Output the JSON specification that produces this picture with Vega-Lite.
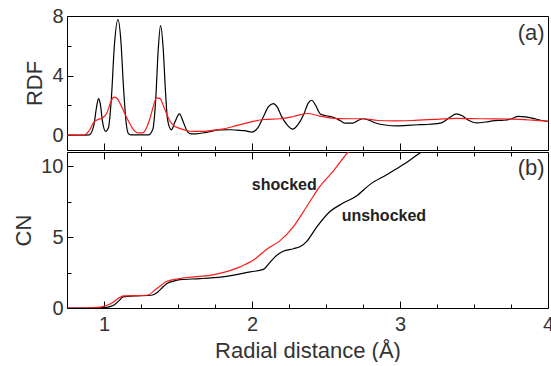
{
  "$schema": "https://vega.github.io/schema/vega-lite/v6.json",
  "background": "white",
  "padding": {"left": 12, "top": 5, "right": 0, "bottom": 0},
  "spacing": 0,
  "config": {
    "font": "Liberation Sans",
    "view": {"stroke": "black", "strokeWidth": 1},
    "axis": {
      "domain": false, "grid": false,
      "labelFont": "Liberation Sans", "labelFontSize": 20, "labelColor": "#333",
      "titleFont": "Liberation Sans", "titleFontSize": 22, "titleFontWeight": "normal", "titleColor": "#333",
      "tickColor": "black", "tickWidth": 1, "labelFlush": false, "labelOverlap": false
    }
  },
  "datasets": {
    "rdf": [
      {"series": "unshocked", "r": 0.75, "v": 0},
      {"series": "unshocked", "r": 0.85, "v": 0},
      {"series": "unshocked", "r": 0.9, "v": 0.02},
      {"series": "unshocked", "r": 0.93, "v": 0.6},
      {"series": "unshocked", "r": 0.95, "v": 1.9},
      {"series": "unshocked", "r": 0.963, "v": 2.45},
      {"series": "unshocked", "r": 0.975, "v": 2.1},
      {"series": "unshocked", "r": 0.99, "v": 0.9},
      {"series": "unshocked", "r": 1.01, "v": 0.25},
      {"series": "unshocked", "r": 1.03, "v": 0.5},
      {"series": "unshocked", "r": 1.05, "v": 2.5},
      {"series": "unshocked", "r": 1.07, "v": 6.0},
      {"series": "unshocked", "r": 1.094, "v": 7.75},
      {"series": "unshocked", "r": 1.115, "v": 6.2},
      {"series": "unshocked", "r": 1.13, "v": 3.5},
      {"series": "unshocked", "r": 1.15, "v": 0.8},
      {"series": "unshocked", "r": 1.165, "v": 0.1},
      {"series": "unshocked", "r": 1.18, "v": 0.02},
      {"series": "unshocked", "r": 1.3, "v": 0.02},
      {"series": "unshocked", "r": 1.33, "v": 0.4},
      {"series": "unshocked", "r": 1.35, "v": 2.5},
      {"series": "unshocked", "r": 1.365, "v": 5.5},
      {"series": "unshocked", "r": 1.382, "v": 7.35},
      {"series": "unshocked", "r": 1.4, "v": 5.8},
      {"series": "unshocked", "r": 1.415, "v": 3.0},
      {"series": "unshocked", "r": 1.43, "v": 1.0},
      {"series": "unshocked", "r": 1.455, "v": 0.35},
      {"series": "unshocked", "r": 1.48, "v": 0.9},
      {"series": "unshocked", "r": 1.51, "v": 1.42},
      {"series": "unshocked", "r": 1.535, "v": 0.9},
      {"series": "unshocked", "r": 1.56, "v": 0.3},
      {"series": "unshocked", "r": 1.58, "v": 0.1},
      {"series": "unshocked", "r": 1.62, "v": 0.08},
      {"series": "unshocked", "r": 1.7, "v": 0.2},
      {"series": "unshocked", "r": 1.78, "v": 0.35},
      {"series": "unshocked", "r": 1.85, "v": 0.36},
      {"series": "unshocked", "r": 1.9, "v": 0.33},
      {"series": "unshocked", "r": 1.95, "v": 0.3},
      {"series": "unshocked", "r": 2.0, "v": 0.2},
      {"series": "unshocked", "r": 2.04, "v": 0.5},
      {"series": "unshocked", "r": 2.08, "v": 1.3},
      {"series": "unshocked", "r": 2.11, "v": 1.9},
      {"series": "unshocked", "r": 2.144, "v": 2.12},
      {"series": "unshocked", "r": 2.17, "v": 1.9},
      {"series": "unshocked", "r": 2.2, "v": 1.26},
      {"series": "unshocked", "r": 2.24, "v": 0.65},
      {"series": "unshocked", "r": 2.275, "v": 0.4},
      {"series": "unshocked", "r": 2.31, "v": 0.7},
      {"series": "unshocked", "r": 2.35, "v": 1.4},
      {"series": "unshocked", "r": 2.38, "v": 2.15},
      {"series": "unshocked", "r": 2.403, "v": 2.34},
      {"series": "unshocked", "r": 2.43, "v": 2.0},
      {"series": "unshocked", "r": 2.46, "v": 1.44},
      {"series": "unshocked", "r": 2.5, "v": 1.3},
      {"series": "unshocked", "r": 2.55, "v": 1.2},
      {"series": "unshocked", "r": 2.6, "v": 0.95},
      {"series": "unshocked", "r": 2.63, "v": 0.8},
      {"series": "unshocked", "r": 2.68, "v": 0.8},
      {"series": "unshocked", "r": 2.72, "v": 1.0},
      {"series": "unshocked", "r": 2.75, "v": 1.1},
      {"series": "unshocked", "r": 2.79, "v": 1.0},
      {"series": "unshocked", "r": 2.84, "v": 0.8},
      {"series": "unshocked", "r": 2.9, "v": 0.68},
      {"series": "unshocked", "r": 2.98, "v": 0.62},
      {"series": "unshocked", "r": 3.05, "v": 0.66},
      {"series": "unshocked", "r": 3.13, "v": 0.7},
      {"series": "unshocked", "r": 3.2, "v": 0.73},
      {"series": "unshocked", "r": 3.28, "v": 0.82},
      {"series": "unshocked", "r": 3.34, "v": 1.22},
      {"series": "unshocked", "r": 3.38, "v": 1.42},
      {"series": "unshocked", "r": 3.42, "v": 1.3},
      {"series": "unshocked", "r": 3.46, "v": 1.02},
      {"series": "unshocked", "r": 3.52, "v": 0.82},
      {"series": "unshocked", "r": 3.58, "v": 0.88},
      {"series": "unshocked", "r": 3.64, "v": 0.97},
      {"series": "unshocked", "r": 3.7, "v": 1.0},
      {"series": "unshocked", "r": 3.75, "v": 1.08},
      {"series": "unshocked", "r": 3.8, "v": 1.26},
      {"series": "unshocked", "r": 3.85, "v": 1.22},
      {"series": "unshocked", "r": 3.9, "v": 1.12},
      {"series": "unshocked", "r": 3.95, "v": 1.0},
      {"series": "unshocked", "r": 4.0, "v": 0.92},
      {"series": "shocked", "r": 0.75, "v": 0},
      {"series": "shocked", "r": 0.86, "v": 0},
      {"series": "shocked", "r": 0.9, "v": 0.3},
      {"series": "shocked", "r": 0.93, "v": 0.85},
      {"series": "shocked", "r": 0.96, "v": 1.05},
      {"series": "shocked", "r": 0.99, "v": 1.15},
      {"series": "shocked", "r": 1.02, "v": 1.5},
      {"series": "shocked", "r": 1.045, "v": 2.2},
      {"series": "shocked", "r": 1.065, "v": 2.55},
      {"series": "shocked", "r": 1.085, "v": 2.5},
      {"series": "shocked", "r": 1.11, "v": 2.1},
      {"series": "shocked", "r": 1.14, "v": 1.45},
      {"series": "shocked", "r": 1.17, "v": 0.85},
      {"series": "shocked", "r": 1.2, "v": 0.35},
      {"series": "shocked", "r": 1.23, "v": 0.15},
      {"series": "shocked", "r": 1.26, "v": 0.15},
      {"series": "shocked", "r": 1.29, "v": 0.55},
      {"series": "shocked", "r": 1.31, "v": 1.1},
      {"series": "shocked", "r": 1.335, "v": 2.0},
      {"series": "shocked", "r": 1.355, "v": 2.5},
      {"series": "shocked", "r": 1.38, "v": 2.45},
      {"series": "shocked", "r": 1.4, "v": 2.0},
      {"series": "shocked", "r": 1.42, "v": 1.5},
      {"series": "shocked", "r": 1.445, "v": 0.95},
      {"series": "shocked", "r": 1.47, "v": 0.65},
      {"series": "shocked", "r": 1.51, "v": 0.45},
      {"series": "shocked", "r": 1.555, "v": 0.32},
      {"series": "shocked", "r": 1.6, "v": 0.25},
      {"series": "shocked", "r": 1.65, "v": 0.25},
      {"series": "shocked", "r": 1.72, "v": 0.3},
      {"series": "shocked", "r": 1.8, "v": 0.4},
      {"series": "shocked", "r": 1.9, "v": 0.65},
      {"series": "shocked", "r": 2.0, "v": 0.9},
      {"series": "shocked", "r": 2.08, "v": 1.05},
      {"series": "shocked", "r": 2.19, "v": 1.1},
      {"series": "shocked", "r": 2.28, "v": 1.25},
      {"series": "shocked", "r": 2.37, "v": 1.45},
      {"series": "shocked", "r": 2.46, "v": 1.28},
      {"series": "shocked", "r": 2.55, "v": 1.12},
      {"series": "shocked", "r": 2.65, "v": 1.1},
      {"series": "shocked", "r": 2.75, "v": 1.1},
      {"series": "shocked", "r": 2.85, "v": 0.98},
      {"series": "shocked", "r": 2.95, "v": 0.95},
      {"series": "shocked", "r": 3.1, "v": 0.99},
      {"series": "shocked", "r": 3.25, "v": 1.06},
      {"series": "shocked", "r": 3.38, "v": 1.13},
      {"series": "shocked", "r": 3.55, "v": 1.1},
      {"series": "shocked", "r": 3.76, "v": 1.08},
      {"series": "shocked", "r": 3.9, "v": 1.0},
      {"series": "shocked", "r": 4.0, "v": 0.92}
    ],
    "cn": [
      {"series": "unshocked", "r": 0.75, "v": 0},
      {"series": "unshocked", "r": 0.95, "v": 0},
      {"series": "unshocked", "r": 1.0, "v": 0.02},
      {"series": "unshocked", "r": 1.04, "v": 0.1},
      {"series": "unshocked", "r": 1.065, "v": 0.19},
      {"series": "unshocked", "r": 1.1, "v": 0.5},
      {"series": "unshocked", "r": 1.13, "v": 0.78},
      {"series": "unshocked", "r": 1.2, "v": 0.85},
      {"series": "unshocked", "r": 1.32, "v": 0.9},
      {"series": "unshocked", "r": 1.36, "v": 1.1},
      {"series": "unshocked", "r": 1.4, "v": 1.5},
      {"series": "unshocked", "r": 1.425, "v": 1.72},
      {"series": "unshocked", "r": 1.47, "v": 1.9},
      {"series": "unshocked", "r": 1.515, "v": 2.0},
      {"series": "unshocked", "r": 1.65, "v": 2.07},
      {"series": "unshocked", "r": 1.8, "v": 2.2},
      {"series": "unshocked", "r": 1.99, "v": 2.55},
      {"series": "unshocked", "r": 2.077, "v": 2.72},
      {"series": "unshocked", "r": 2.12, "v": 3.2},
      {"series": "unshocked", "r": 2.16, "v": 3.65},
      {"series": "unshocked", "r": 2.21, "v": 4.0},
      {"series": "unshocked", "r": 2.28, "v": 4.18},
      {"series": "unshocked", "r": 2.33, "v": 4.35},
      {"series": "unshocked", "r": 2.37, "v": 4.7},
      {"series": "unshocked", "r": 2.437, "v": 5.7},
      {"series": "unshocked", "r": 2.527, "v": 6.8},
      {"series": "unshocked", "r": 2.616, "v": 7.4},
      {"series": "unshocked", "r": 2.706, "v": 7.9},
      {"series": "unshocked", "r": 2.796, "v": 8.7},
      {"series": "unshocked", "r": 2.91, "v": 9.4},
      {"series": "unshocked", "r": 3.02, "v": 10.1},
      {"series": "unshocked", "r": 3.145, "v": 11.0},
      {"series": "unshocked", "r": 3.2, "v": 11.35},
      {"series": "shocked", "r": 0.75, "v": 0},
      {"series": "shocked", "r": 0.86, "v": 0},
      {"series": "shocked", "r": 0.95, "v": 0.04},
      {"series": "shocked", "r": 1.0, "v": 0.12},
      {"series": "shocked", "r": 1.065, "v": 0.43},
      {"series": "shocked", "r": 1.1, "v": 0.7},
      {"series": "shocked", "r": 1.13, "v": 0.85},
      {"series": "shocked", "r": 1.29, "v": 0.9},
      {"series": "shocked", "r": 1.357, "v": 1.37},
      {"series": "shocked", "r": 1.425, "v": 1.89},
      {"series": "shocked", "r": 1.515, "v": 2.08},
      {"series": "shocked", "r": 1.76, "v": 2.39},
      {"series": "shocked", "r": 1.92, "v": 2.9},
      {"series": "shocked", "r": 2.01, "v": 3.38},
      {"series": "shocked", "r": 2.1, "v": 4.15},
      {"series": "shocked", "r": 2.19, "v": 4.75},
      {"series": "shocked", "r": 2.28, "v": 5.74},
      {"series": "shocked", "r": 2.37, "v": 7.16},
      {"series": "shocked", "r": 2.459, "v": 8.58},
      {"series": "shocked", "r": 2.549, "v": 9.65},
      {"series": "shocked", "r": 2.65, "v": 11.0},
      {"series": "shocked", "r": 2.7, "v": 11.5}
    ]
  },
  "vconcat": [
    {
      "width": 481,
      "height": 134,
      "resolve": {"axis": {"x": "independent", "y": "independent"}},
      "layer": [
        {
          "data": {"name": "rdf"},
          "mark": {"type": "line", "strokeWidth": 1.2, "clip": true, "interpolate": "monotone"},
          "encoding": {
            "x": {"field": "r", "type": "quantitative",
              "scale": {"domain": [0.75, 4], "nice": false, "zero": false},
              "axis": {"orient": "bottom", "title": null, "values": [1, 2, 3, 4], "labels": false, "tickSize": -7}},
            "y": {"field": "v", "type": "quantitative",
              "scale": {"domain": [-1, 8], "nice": false, "zero": false},
              "axis": {"orient": "left", "title": "RDF", "values": [0, 4, 8], "titlePadding": 5, "labelPadding": 10, "tickSize": -6}},
            "color": {"field": "series", "type": "nominal",
              "scale": {"domain": ["unshocked", "shocked"], "range": ["#000000", "#ff1a1a"]},
              "legend": null},
            "order": {"field": "r", "type": "quantitative"}
          }
        },
        {
          "data": {"values": [{}]},
          "mark": {"type": "text", "align": "right", "baseline": "middle", "fontSize": 22, "color": "#333", "font": "Liberation Sans"},
          "encoding": {
            "x": {"datum": 3.977, "type": "quantitative",
              "axis": {"orient": "bottom", "title": null, "labels": false, "values": [0.75, 1.25, 1.5, 1.75, 2.25, 2.5, 2.75, 3.25, 3.5, 3.75], "tickSize": -4}},
            "y": {"datum": 6.85, "type": "quantitative",
              "axis": {"orient": "left", "title": null, "labels": false, "values": [2, 6], "tickSize": -4}},
            "text": {"value": "(a)"}
          }
        }
      ]
    },
    {
      "width": 481,
      "height": 156,
      "resolve": {"axis": {"x": "independent", "y": "independent"}},
      "layer": [
        {
          "data": {"name": "cn"},
          "mark": {"type": "line", "strokeWidth": 1.2, "clip": true, "interpolate": "monotone"},
          "encoding": {
            "x": {"field": "r", "type": "quantitative",
              "scale": {"domain": [0.75, 4], "nice": false, "zero": false},
              "axis": {"orient": "bottom", "title": "Radial distance (Å)", "values": [1, 2, 3, 4], "labelPadding": 13.5, "titlePadding": 5.5, "tickSize": -7}},
            "y": {"field": "v", "type": "quantitative",
              "scale": {"domain": [0, 11], "nice": false, "zero": false},
              "axis": {"orient": "left", "title": "CN", "values": [0, 5, 10], "titlePadding": 5, "labelPadding": 10, "tickSize": -6}},
            "color": {"field": "series", "type": "nominal",
              "scale": {"domain": ["unshocked", "shocked"], "range": ["#000000", "#ff1a1a"]},
              "legend": null},
            "order": {"field": "r", "type": "quantitative"}
          }
        },
        {
          "data": {"values": [{}]},
          "mark": {"type": "text", "align": "center", "baseline": "middle", "fontSize": 16, "fontWeight": "bold", "color": "#222", "font": "Liberation Sans"},
          "encoding": {
            "x": {"datum": 2.218, "type": "quantitative",
              "axis": {"orient": "bottom", "title": null, "labels": false, "values": [0.75, 1.25, 1.5, 1.75, 2.25, 2.5, 2.75, 3.25, 3.5, 3.75], "tickSize": -4}},
            "y": {"datum": 8.7, "type": "quantitative",
              "axis": {"orient": "left", "title": null, "labels": false, "values": [2.5, 7.5], "tickSize": -4}},
            "text": {"value": "shocked"}
          }
        },
        {
          "data": {"values": [{}]},
          "mark": {"type": "text", "align": "center", "baseline": "middle", "fontSize": 16, "fontWeight": "bold", "color": "#222", "font": "Liberation Sans"},
          "encoding": {
            "x": {"datum": 2.891, "type": "quantitative",
              "axis": {"orient": "top", "title": null, "labels": false, "values": [1, 2, 3, 4], "tickSize": -7}},
            "y": {"datum": 6.52, "type": "quantitative", "axis": null},
            "text": {"value": "unshocked"}
          }
        },
        {
          "data": {"values": [{}]},
          "mark": {"type": "text", "align": "right", "baseline": "middle", "fontSize": 22, "color": "#333", "font": "Liberation Sans"},
          "encoding": {
            "x": {"datum": 3.977, "type": "quantitative",
              "axis": {"orient": "top", "title": null, "labels": false, "values": [0.75, 1.25, 1.5, 1.75, 2.25, 2.5, 2.75, 3.25, 3.5, 3.75], "tickSize": -4}},
            "y": {"datum": 9.9, "type": "quantitative", "axis": null},
            "text": {"value": "(b)"}
          }
        }
      ]
    }
  ]
}
